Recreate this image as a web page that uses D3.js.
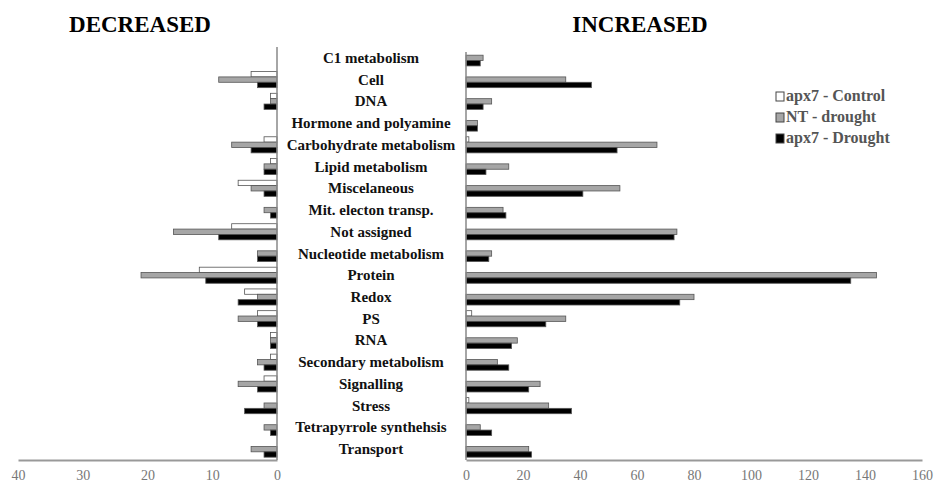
<!DOCTYPE html>
<html><head><meta charset="utf-8">
<script src="https://cdn.jsdelivr.net/npm/d3@7"></script>
<style>body{margin:0;background:#fff}svg{display:block}</style>
</head><body><svg id="c" width="935" height="487"></svg>
<script>
const categories = ["C1 metabolism","Cell","DNA","Hormone and polyamine","Carbohydrate metabolism","Lipid metabolism","Miscelaneous","Mit. electon transp.","Not assigned","Nucleotide metabolism","Protein","Redox","PS","RNA","Secondary metabolism","Signalling","Stress","Tetrapyrrole synthehsis","Transport"];
const seriesNames = ["apx7 - Control","NT - drought","apx7 - Drought"];
// Decreased counts
const decControl = [0,4,1,0,2,1,6,0,7,0,12,5,3,1,1,2,0,0,0];
const decNT      = [0,9,1,0,7,2,4,2,16,3,21,3,6,1,3,6,2,2,4];
const decDrought = [0,3,2,0,4,2,2,1,9,3,11,6,3,1,2,3,5,1,2];
// Increased counts
const incControl = [0,0,0,0,1,0,0,0,0,0,0,0,2,0,0,0,1,0,0];
const incNT      = [6,35,9,4,67,15,54,13,74,9,144,80,35,18,11,26,29,5,22];
const incDrought = [5,44,6,4,53,7,41,14,73,8,135,75,28,16,15,22,37,9,23];
const decTicks = [40,30,20,10,0];
const incTicks = [0,20,40,60,80,100,120,140,160];

const fills = ["#ffffff","#a6a6a6","#000000"];
const svg = d3.select("#c");
const serif = "'Liberation Serif','Times New Roman',serif";

const y = d3.scaleBand().domain(categories).range([47,460]).paddingInner(0.26).paddingOuter(0.13);
const sub = d3.scaleBand().domain([0,1,2]).range([0,y.bandwidth()]);
const xL = d3.scaleLinear().domain([40,0]).range([18,277]);
const xR = d3.scaleLinear().domain([0,160]).range([466,922]);

const dec = [decControl,decNT,decDrought];
const inc = [incControl,incNT,incDrought];

// bars
dec.forEach((arr,s)=>{
  svg.append("g").selectAll("rect").data(arr.map((v,i)=>({v,c:categories[i]})).filter(d=>d.v>0)).join("rect")
    .attr("x",d=>xL(d.v)).attr("width",d=>xL(0)-xL(d.v))
    .attr("y",d=>y(d.c)+sub(s)).attr("height",sub.bandwidth())
    .attr("fill",fills[s]).attr("stroke","#555").attr("stroke-width",0.8);
});
inc.forEach((arr,s)=>{
  svg.append("g").selectAll("rect").data(arr.map((v,i)=>({v,c:categories[i]})).filter(d=>d.v>0)).join("rect")
    .attr("x",xR(0)).attr("width",d=>xR(d.v)-xR(0))
    .attr("y",d=>y(d.c)+sub(s)).attr("height",sub.bandwidth())
    .attr("fill",fills[s]).attr("stroke","#555").attr("stroke-width",0.8);
});

// axes
function styleAxis(g){
  g.select(".domain").attr("stroke","#999").attr("stroke-width",2);
  g.selectAll(".tick line").remove();
  g.selectAll("text").attr("font-family",serif).attr("font-size",14).attr("fill","#777");
}
svg.append("g").attr("transform","translate(0,460)")
  .call(d3.axisBottom(xL).tickValues(decTicks).tickSize(0).tickPadding(10).tickSizeOuter(0)).call(styleAxis);
svg.append("g").attr("transform","translate(0,460)")
  .call(d3.axisBottom(xR).tickValues(incTicks).tickSize(0).tickPadding(10).tickSizeOuter(0)).call(styleAxis);
svg.append("line").attr("x1",xL(0)).attr("x2",xL(0)).attr("y1",47).attr("y2",460).attr("stroke","#888").attr("stroke-width",1.5);
svg.append("line").attr("x1",xR(0)).attr("x2",xR(0)).attr("y1",52).attr("y2",460).attr("stroke","#888").attr("stroke-width",1.5);

// category labels
svg.append("g").selectAll("text").data(categories).join("text")
  .attr("x",371).attr("y",d=>y(d)+y.bandwidth()/2+5)
  .attr("text-anchor","middle").attr("font-family",serif).attr("font-weight","bold")
  .attr("font-size",15).attr("fill","#111").text(d=>d);

// titles
svg.append("text").attr("x",140).attr("y",32).attr("text-anchor","middle")
  .attr("font-family",serif).attr("font-weight","bold").attr("font-size",23).text("DECREASED");
svg.append("text").attr("x",640).attr("y",32).attr("text-anchor","middle")
  .attr("font-family",serif).attr("font-weight","bold").attr("font-size",23).text("INCREASED");

// legend
const lg = svg.append("g").attr("transform","translate(776,101)");
seriesNames.forEach((n,i)=>{
  const g = lg.append("g").attr("transform",`translate(0,${i*21})`);
  g.append("rect").attr("x",0).attr("y",-9).attr("width",8).attr("height",9)
    .attr("fill",fills[i]).attr("stroke","#444").attr("stroke-width",1);
  g.append("text").attr("x",10).attr("y",0).attr("font-family",serif).attr("font-weight","bold")
    .attr("font-size",16).attr("fill","#555").text(n);
});
</script></body></html>
